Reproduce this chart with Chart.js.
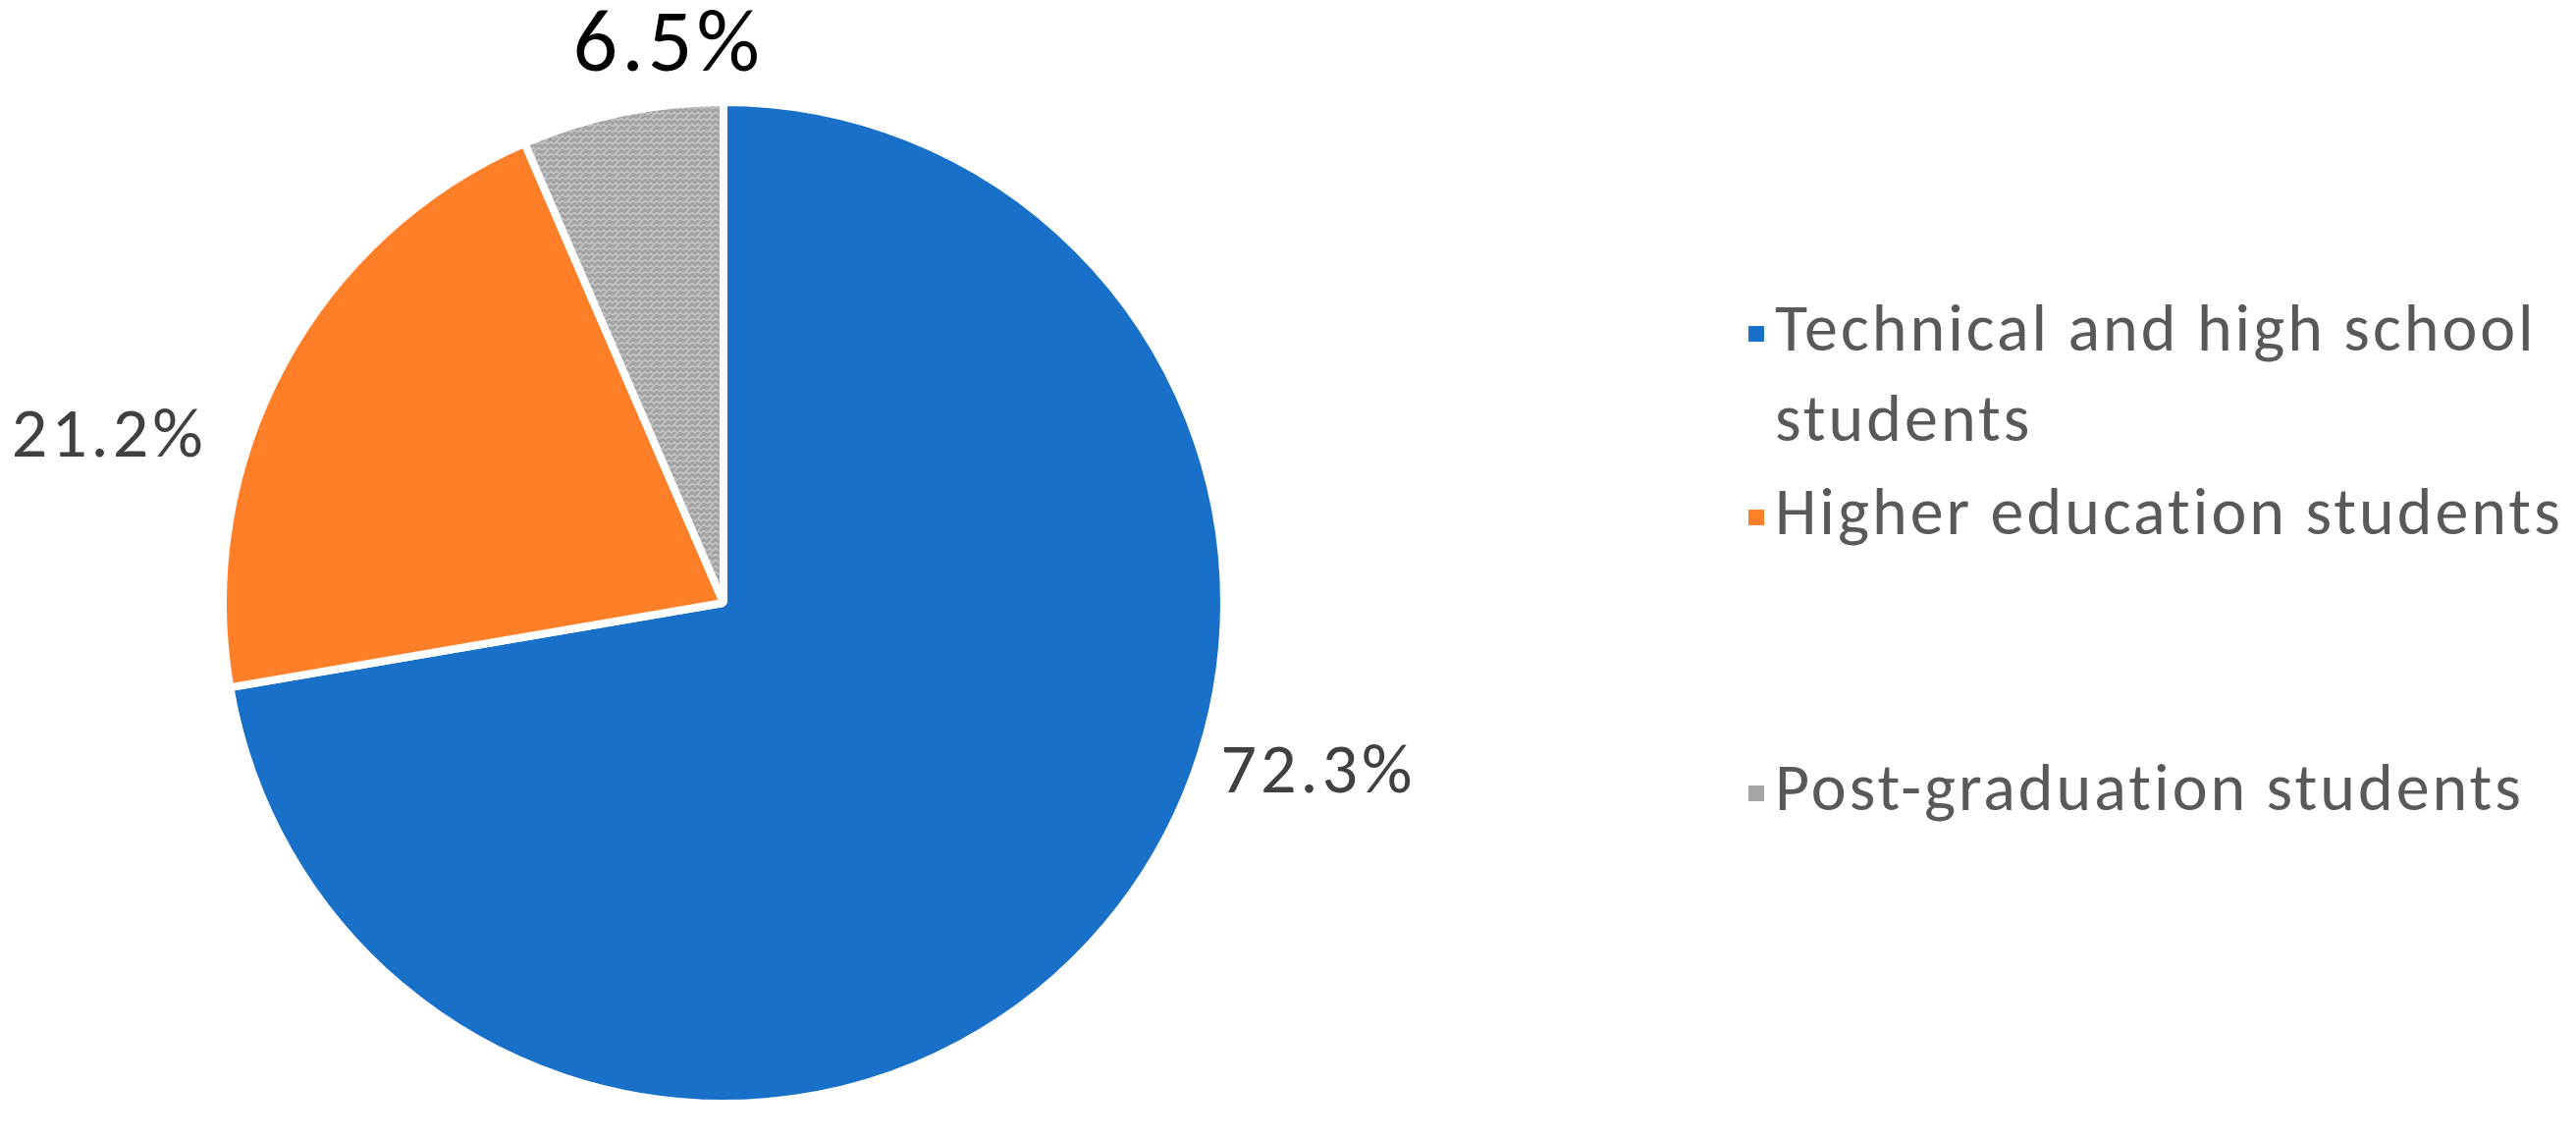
<!DOCTYPE html>
<html>
<head>
<meta charset="utf-8">
<script src="https://cdn.jsdelivr.net/npm/chart.js@4.4.1/dist/chart.umd.min.js"></script>
<style>
  html, body { margin: 0; padding: 0; background: #fff; }
  #wrap { width: 2624px; height: 1159px; position: relative; }
</style>
</head>
<body>
<div id="wrap"><canvas id="myChart" width="2624" height="1159"></canvas></div>
<script>
const categories = [
  ['Technical and high school', 'students'],
  ['Higher education students'],
  ['Post-graduation students']
];
const shares = [72.3, 21.2, 6.5];
const valueLabels = ['72.3%', '21.2%', '6.5%'];

const FONT = 'Carlito, Lato, sans-serif';

// grey "maze" texture used by the third slice
function mazePattern() {
  const c = document.createElement('canvas');
  c.width = 12; c.height = 12;
  const g = c.getContext('2d');
  g.fillStyle = '#a3a3a3';
  g.fillRect(0, 0, 12, 12);
  g.strokeStyle = '#c4c4c4';
  g.lineWidth = 1.5;
  g.beginPath();
  g.moveTo(0, 3); g.lineTo(3, 0); g.lineTo(6, 3); g.lineTo(9, 0); g.lineTo(12, 3);
  g.moveTo(0, 9); g.lineTo(3, 6); g.lineTo(6, 9); g.lineTo(9, 6); g.lineTo(12, 9);
  g.moveTo(3, 12); g.lineTo(6, 9);
  g.stroke();
  return g.createPattern(c, 'repeat');
}

const colors = ['#1870c8', '#fe7f27', mazePattern()];
const legendSwatch = ['#1870c8', '#fe7f27', '#a5a5a5'];

// percentage labels, placed around each arc
const sliceLabels = {
  id: 'sliceLabels',
  afterDatasetsDraw(chart, args, opts) {
    const ctx = chart.ctx;
    const arcs = chart.getDatasetMeta(0).data;
    arcs.forEach((arc, i) => {
      const p = opts.place[i];
      const mid = (arc.startAngle + arc.endAngle) / 2 + p.shift * Math.PI / 180;
      const r = arc.outerRadius * p.dist;
      const x = arc.x + Math.cos(mid) * r;
      const y = arc.y + Math.sin(mid) * r;
      ctx.save();
      ctx.font = p.size + 'px ' + FONT;
      ctx.letterSpacing = p.spacing + 'px';
      ctx.fillStyle = p.color;
      ctx.textAlign = 'center';
      ctx.textBaseline = 'middle';
      ctx.fillText(valueLabels[i], x, y);
      ctx.restore();
    });
  }
};

// legend on the right, Excel style spacing
const sideLegend = {
  id: 'sideLegend',
  afterDraw(chart, args, opts) {
    const ctx = chart.ctx;
    ctx.save();
    ctx.font = opts.size + 'px ' + FONT;
    ctx.letterSpacing = opts.spacing + 'px';
    ctx.textBaseline = 'middle';
    categories.forEach((lines, i) => {
      const y0 = opts.rows[i];
      ctx.fillStyle = legendSwatch[i];
      ctx.fillRect(opts.x - opts.box / 2, y0 - opts.box / 2, opts.box, opts.box);
      ctx.fillStyle = opts.color;
      lines.forEach((t, j) => ctx.fillText(t, opts.textX, y0 + j * opts.lineH));
    });
    ctx.restore();
  }
};

new Chart(document.getElementById('myChart'), {
  type: 'pie',
  data: {
    labels: categories.map(l => l.join(' ')),
    datasets: [{
      data: shares,
      backgroundColor: colors,
      borderColor: '#ffffff',
      borderWidth: 8
    }]
  },
  options: {
    responsive: false,
    animation: false,
    layout: { padding: { left: 223, top: 100, right: 1373, bottom: 31 } },
    plugins: {
      legend: { display: false },
      tooltip: { enabled: false },
      sliceLabels: {
        place: [
          { shift: -24, dist: 1.237, size: 72, spacing: 4, color: '#404040' },
          { shift: -13.5, dist: 1.27, size: 72, spacing: 4, color: '#404040' },
          { shift: 6, dist: 1.112, size: 90, spacing: 4, color: '#000000' }
        ]
      },
      sideLegend: {
        x: 1789, textX: 1808, box: 16, size: 68, spacing: 3, lineH: 92,
        rows: [340, 527, 808], color: '#595959'
      }
    }
  },
  plugins: [sliceLabels, sideLegend]
});
</script>
</body>
</html>
